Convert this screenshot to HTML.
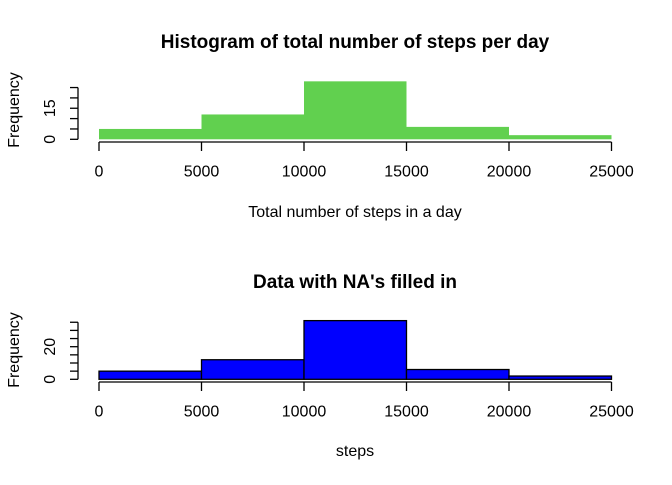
<!DOCTYPE html>
<html><head><meta charset="utf-8"><style>
body{margin:0;background:#fff}
svg text{font-family:"Liberation Sans",Arial,sans-serif;fill:#000}
</style></head><body>
<svg id="c" width="672" height="480" xmlns="http://www.w3.org/2000/svg"></svg>
<script>
const breaks=[0,5000,10000,15000,20000,25000];
const countsTop=[5,12,28,6,2];
const countsBottom=[5,12,36,6,2];
const xTicks=[0,5000,10000,15000,20000,25000];
const yTicksTop=[0,5,10,15,20,25];
const yLabelsTop=[0,15];
const yTicksBottom=[0,5,10,15,20,25,30,35];
const yLabelsBottom=[0,20];
const NS="http://www.w3.org/2000/svg";
const svg=document.getElementById('c');
function el(tag,attrs,parent){const e=document.createElementNS(NS,tag);for(const k in attrs)e.setAttribute(k,attrs[k]);(parent||svg).appendChild(e);return e;}
const xs=v=>99+v*(512.5/25000);
function panel(o){
  const g=el('g',{});
  
  
  const ys=v=>o.y0-v*o.ppu;
  o.counts.forEach((c,i)=>{
    const r=el('rect',{x:xs(breaks[i]),y:ys(c),width:xs(breaks[i+1])-xs(breaks[i]),height:ys(0)-ys(c),fill:o.fill,stroke:o.stroke,'stroke-width':o.stroke=='none'?0:1.3},g);
    
    
  });
  const xa=el('g',{},g);
  
  
  el('line',{x1:xs(0),x2:xs(25000),y1:o.ax,y2:o.ax,stroke:'#000','stroke-width':1.3},xa);
  xTicks.forEach(t=>{
    el('line',{x1:xs(t),x2:xs(t),y1:o.ax,y2:o.ax+9,stroke:'#000','stroke-width':1.3},xa);
    const tx=el('text',{x:xs(t),y:o.ax+34.5,'text-anchor':'middle','font-size':'16'},xa);tx.textContent=t;
  });
  const ya=el('g',{},g);
  
  
  const yt=o.yTicks;
  el('line',{x1:78,x2:78,y1:ys(yt[0]),y2:ys(yt[yt.length-1]),stroke:'#000','stroke-width':1.3},ya);
  yt.forEach(t=>el('line',{x1:70,x2:78,y1:ys(t),y2:ys(t),stroke:'#000','stroke-width':1.3},ya));
  o.yLabels.forEach(t=>{const tx=el('text',{transform:`translate(55,${ys(t)}) rotate(-90)`,'text-anchor':'middle','font-size':'16'},ya);tx.textContent=t;});
  const yl=el('text',{transform:`translate(19,${o.ylabY}) rotate(-90)`,'text-anchor':'middle','font-size':'16'},g);yl.textContent='Frequency';
  
  
  const ti=el('text',{x:355,y:o.titleY,'text-anchor':'middle','font-size':'19','font-weight':'bold'},g);ti.textContent=o.title;
  
  
  const xl=el('text',{x:355,y:o.xlabY,'text-anchor':'middle','font-size':'16'},g);xl.textContent=o.xlab;
  
  
}
panel({name:'top-histogram',counts:countsTop,y0:139.3,ppu:2.07,ax:142,fill:'#61d04f',stroke:'none',yTicks:yTicksTop,yLabels:yLabelsTop,ylabY:110,titleY:48,xlabY:217,title:'Histogram of total number of steps per day',xlab:'Total number of steps in a day'});
panel({name:'bottom-histogram',counts:countsBottom,y0:379.3,ppu:1.63,ax:382,fill:'#0000ff',stroke:'#000',yTicks:yTicksBottom,yLabels:yLabelsBottom,ylabY:350,titleY:288,xlabY:456,title:"Data with NA's filled in",xlab:'steps'});
</script>
</body></html>
